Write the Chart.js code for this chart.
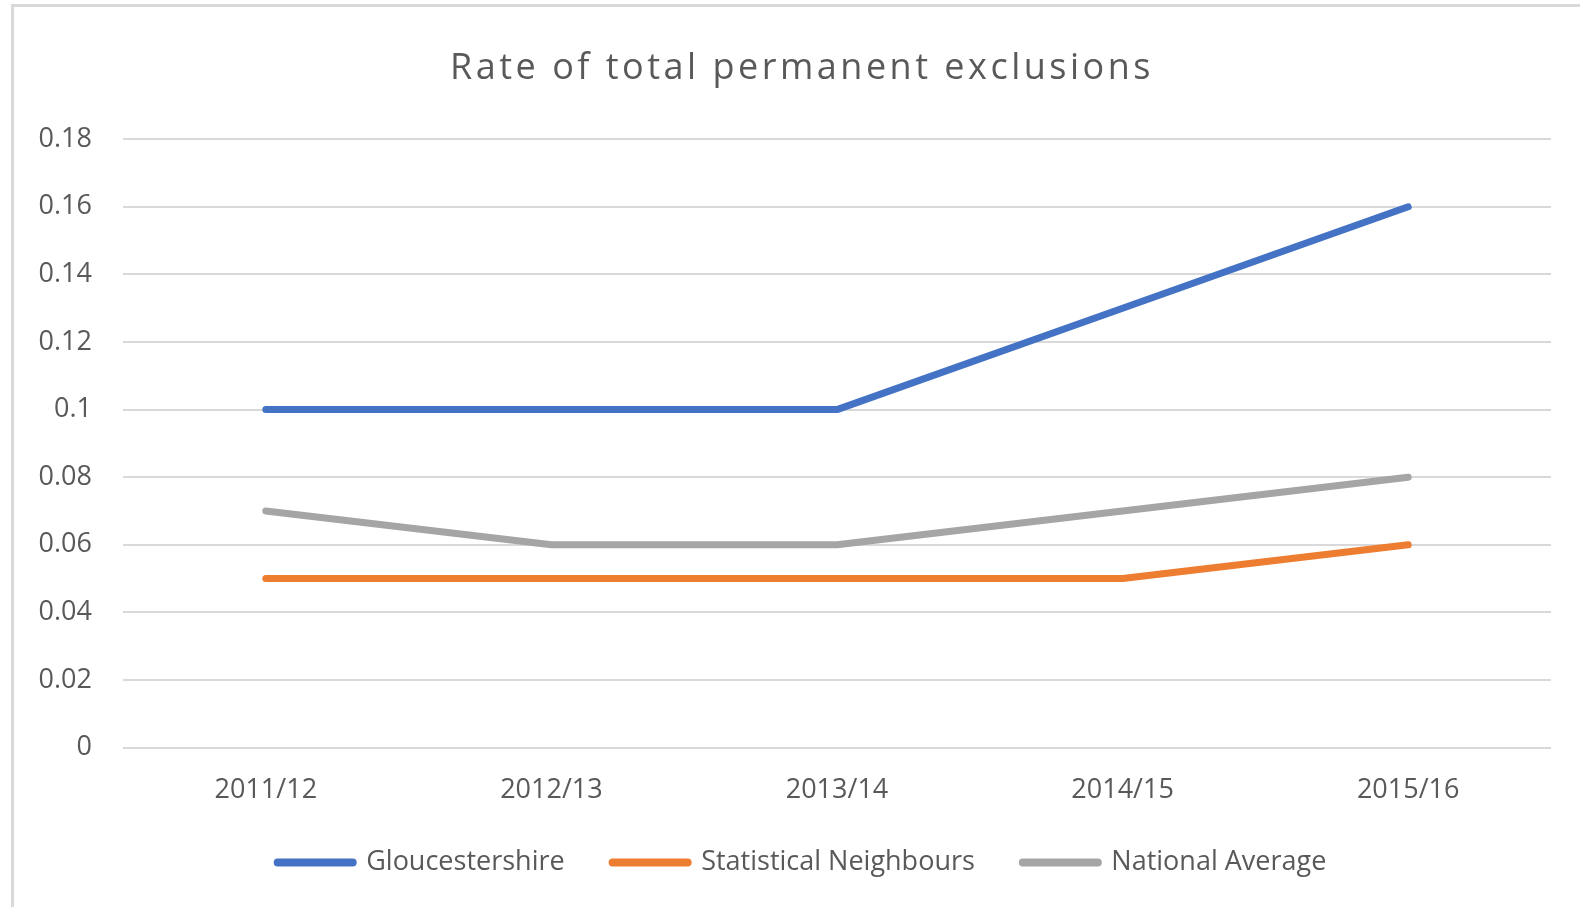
<!DOCTYPE html>
<html>
<head>
<meta charset="utf-8">
<script src="https://cdn.jsdelivr.net/npm/chart.js@4"></script>
<style>
  html, body { margin: 0; padding: 0; background: #fff; }
  .frame {
    position: absolute; left: 11px; top: 4px;
    width: 1566px; height: 900px;
    border-left: 3px solid #d9d9d9; border-top: 3px solid #d9d9d9;
  }
  canvas { display: block; }
</style>
</head>
<body>
<div class="frame"><canvas id="chart" width="1566" height="900"></canvas></div>
<script>
const years = ['2011/12', '2012/13', '2013/14', '2014/15', '2015/16'];
const gloucestershire = [0.10, 0.10, 0.10, 0.13, 0.16];
const statNeighbours = [0.05, 0.05, 0.05, 0.05, 0.06];
const nationalAvg = [0.07, 0.06, 0.06, 0.07, 0.08];

const textColor = '#595959';
const fontFamily = '"Open Sans", sans-serif';

function line(label, data, color) {
  return {
    label,
    data,
    borderColor: color,
    backgroundColor: color,
    borderWidth: 7,
    borderCapStyle: 'round',
    borderJoinStyle: 'round',
    pointRadius: 0,
    tension: 0,
    fill: false,
  };
}

// the title in the reference is drawn a little letter-spaced
const spacedTitle = {
  id: 'spacedTitle',
  afterInit(chart) {
    const block = chart.titleBlock;
    if (!block) return;
    const draw = block.draw.bind(block);
    block.draw = function () {
      const ctx = chart.ctx;
      const prev = ctx.letterSpacing;
      ctx.letterSpacing = '3.5px';
      draw();
      ctx.letterSpacing = prev || '0px';
    };
  },
};

new Chart(document.getElementById('chart'), {
  type: 'line',
  data: {
    labels: years,
    datasets: [
      line('Gloucestershire', gloucestershire, '#4472c4'),
      line('Statistical Neighbours', statNeighbours, '#ed7d31'),
      line('National Average', nationalAvg, '#a5a5a5'),
    ],
  },
  options: {
    responsive: false,
    animation: false,
    layout: { padding: { left: 10, right: 0, top: 0, bottom: 21 } },
    plugins: {
      title: {
        display: true,
        text: 'Rate of total permanent exclusions',
        color: textColor,
        font: { family: fontFamily, size: 36, weight: 'normal' },
        padding: { top: 40, bottom: 49 },
      },
      legend: {
        position: 'bottom',
        labels: {
          color: textColor,
          font: { family: fontFamily, size: 27 },
          usePointStyle: true,
          pointStyle: 'line',
          pointStyleWidth: 75,
          padding: 48,
          generateLabels(chart) {
            return Chart.defaults.plugins.legend.labels.generateLabels(chart).map(l => ({
              ...l, lineWidth: 8, lineCap: 'round', pointStyle: 'line',
            }));
          },
        },
      },
      tooltip: { enabled: false },
    },
    scales: {
      x: {
        offset: true,
        afterFit(scale) { scale.height -= 25; },
        grid: { display: false },
        border: { display: false },
        ticks: { color: textColor, font: { family: fontFamily, size: 27 }, padding: 19, maxRotation: 0 },
      },
      y: {
        min: 0,
        max: 0.18,
        afterFit(scale) { scale.width = 99; },
        grid: { color: '#d9d9d9', lineWidth: 2, drawTicks: false },
        border: { display: false },
        ticks: {
          stepSize: 0.02,
          padding: 31,
          color: textColor,
          font: { family: fontFamily, size: 27 },
          callback: v => String(+v.toFixed(2)),
        },
      },
      // empty right-hand axis, only keeps the plot clear of the right edge
      yRight: {
        position: 'right',
        afterFit(scale) { scale.width = 29; },
        grid: { display: false, drawTicks: false },
        border: { display: false },
        ticks: { display: false },
      },
    },
  },
  plugins: [spacedTitle],
});
</script>
</body>
</html>
